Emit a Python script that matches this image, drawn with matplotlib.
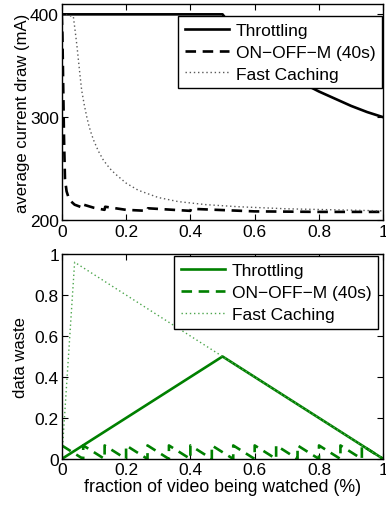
import matplotlib
matplotlib.use("Agg")
import matplotlib.pyplot as plt
from matplotlib.ticker import FormatStrFormatter

plt.rcParams['font.family'] = ['Liberation Sans', 'DejaVu Sans']
plt.rcParams['font.size'] = 12.5

labels = ["Throttling", "ON\u2212OFF\u2212M (40s)", "Fast Caching"]

# average current draw (mA) vs fraction watched
thr_x = [0, 0.5, 0.525, 0.55, 0.6, 0.65, 0.7, 0.75, 0.8, 0.85, 0.9, 0.95, 1.0]
thr_ma = [400, 400, 390, 382, 367, 354, 343, 333, 325, 318, 311, 305, 300]

onoff_x = [0, 0.002, 0.004, 0.007, 0.01, 0.015, 0.02, 0.026, 0.04, 0.066, 0.068, 0.1,
           0.133, 0.135, 0.2, 0.266, 0.268, 0.4, 0.402, 0.6, 0.8, 1.0]
onoff_ma = [400, 380, 340, 280, 240, 228, 223, 219, 215, 212, 215, 212,
            210, 213, 210, 209, 211.5, 209, 211, 208.5, 208, 208]

fast_x = [0, 0.036, 0.042, 0.047, 0.052, 0.057, 0.062, 0.07, 0.078, 0.085, 0.093,
          0.1, 0.114, 0.13, 0.15, 0.166, 0.2, 0.238, 0.3, 0.362, 0.45, 0.55,
          0.7, 0.85, 1.0]
fast_ma = [400, 398, 383, 370, 355, 340, 326, 312, 300, 291, 283,
           277, 267, 258, 250, 245, 236, 229, 222, 218, 215, 213,
           211, 210, 209]

# data waste vs fraction watched
thr_w_x = [0, 0.5, 1.0]
thr_w = [0, 0.5, 0]

onoff_w_x = [0, 0.0667, 0.0667, 0.1333, 0.1333, 0.2, 0.2, 0.2667, 0.2667, 0.3333,
             0.3333, 0.4, 0.4, 0.4667, 0.4667, 0.5333, 0.5333, 0.6, 0.6, 0.6667,
             0.6667, 0.7333, 0.7333, 0.8, 0.8, 0.8667, 0.8667, 0.9333, 0.9333, 1.0]
onoff_w = [0.066, 0, 0.066, 0, 0.066, 0, 0.066, 0, 0.066, 0,
           0.066, 0, 0.066, 0, 0.066, 0, 0.066, 0, 0.066, 0,
           0.066, 0, 0.066, 0, 0.066, 0, 0.066, 0, 0.066, 0]

fast_w_x = [0, 0.04, 0.5, 1.0]
fast_w = [0, 0.96, 0.5, 0]

green = (0.0, 0.5, 0.0)

fig = plt.figure(figsize=(3.86, 5.06), dpi=100)
ax1 = fig.add_axes([0.160, 0.563, 0.833, 0.427])
ax2 = fig.add_axes([0.160, 0.091, 0.833, 0.405])

ax1.plot(thr_x, thr_ma, color='black', lw=1.9, label=labels[0])
ax1.plot(onoff_x, onoff_ma, color='black', lw=1.9, ls=(0, (4, 2.5)), label=labels[1])
ax1.plot(fast_x, fast_ma, color='0.35', lw=1.0, ls=(0, (1, 2)), label=labels[2])
ax1.set_xlim(0, 1)
ax1.set_ylim(200, 410)
ax1.set_yticks([200, 300, 400])
ax1.set_ylabel("average current draw (mA)", labelpad=0, fontsize=12)

ax2.plot(thr_w_x, thr_w, color=green, lw=1.9, label=labels[0])
ax2.plot(onoff_w_x, onoff_w, color=green, lw=1.9, ls=(0, (4, 2.5)), label=labels[1])
ax2.plot(fast_w_x, fast_w, color=(0.3, 0.65, 0.3), lw=1.0, ls=(0, (1, 2)), label=labels[2])
ax2.set_xlim(0, 1)
ax2.set_ylim(0, 1)
ax2.set_yticks([0, 0.2, 0.4, 0.6, 0.8, 1])
ax2.set_ylabel("data waste", labelpad=5, fontsize=12)
ax2.set_xlabel("fraction of video being watched (%)", labelpad=0.5, fontsize=12.8)

for ax in (ax1, ax2):
    ax.set_xticks([0, 0.2, 0.4, 0.6, 0.8, 1])
    ax.xaxis.set_major_formatter(FormatStrFormatter('%g'))
    ax.yaxis.set_major_formatter(FormatStrFormatter('%g'))
    ax.tick_params(direction='in', top=True, right=True, length=4, width=0.8,
                   labelsize=12.5)
    ax.tick_params(axis='x', pad=2.5)
    ax.tick_params(axis='y', pad=2)
    for s in ax.spines.values():
        s.set_linewidth(1.0)

for ax, anchor in ((ax1, (0.997, 0.945)), (ax2, (0.984, 0.99))):
    leg = ax.legend(loc='upper right', bbox_to_anchor=anchor, fancybox=False,
                    framealpha=1, edgecolor='black', handlelength=2.5,
                    borderpad=0.4, labelspacing=0.38, handletextpad=0.4,
                    borderaxespad=0, fontsize=12.5)
    leg.get_frame().set_linewidth(1.0)

fig.savefig("out.png", dpi=100)
